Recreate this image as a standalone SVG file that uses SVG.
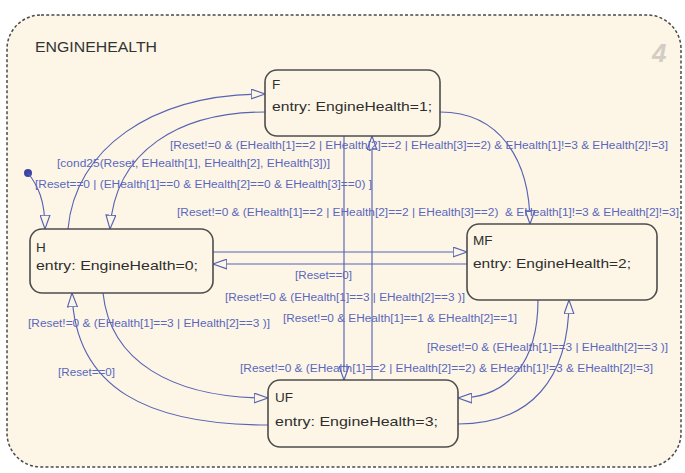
<svg xmlns="http://www.w3.org/2000/svg" width="685" height="473" viewBox="0 0 685 473">
  <style>
    .chart { fill: #fdf6e6; stroke: #4a4a4a; stroke-width: 1.5; stroke-dasharray: 3 2.2; }
    .state { fill: #fdf6e6; stroke: #4d4d4d; stroke-width: 1.6; }
    .title { font-family: "Liberation Sans", Arial, sans-serif; font-size: 15px; fill: #333; }
    .stxt { font-family: "Liberation Sans", Arial, sans-serif; font-size: 13.5px; fill: #2e2e2e; }
    .edge { fill: none; stroke: #5863b3; stroke-width: 1.15; marker-end: url(#arr); }
    .lbl { font-family: "Liberation Sans", Arial, sans-serif; font-size: 10px; fill: #5a67bd; }
  </style>
  <defs>
    <marker id="arr" viewBox="0 0 15 11" refX="14.4" refY="5.5" markerWidth="15" markerHeight="11" orient="auto" markerUnits="userSpaceOnUse">
      <path d="M0.6,0.6 L14.4,5.5 L0.6,10.4 Z" fill="#fdf6e6" stroke="#5863b3" stroke-width="1.15"/>
    </marker>
  </defs>

  <rect width="685" height="473" fill="#ffffff"/>

  <!-- chart boundary -->
  <g id="ENGINEHEALTH">
    <rect class="chart" x="7" y="15" width="674" height="452" rx="34" ry="34"/>
    <text class="title" x="35" y="52" textLength="122" lengthAdjust="spacingAndGlyphs">ENGINEHEALTH</text>
    <text x="652" y="62" font-family="Liberation Sans, Arial, sans-serif" font-size="26" font-weight="bold" font-style="italic" fill="#d2cdc5">4</text>
  </g>

  <!-- transitions -->
  <g id="connectors">
    <!-- default transition -->
    <circle cx="28" cy="173" r="4" fill="#3c46a2"/>
    <path class="edge" d="M28,173 C38,186 45,200 45,229"/>
    <!-- H -> F -->
    <path class="edge" d="M68,229 C75,150 150,94 265,94"/>
    <!-- F -> H -->
    <path class="edge" d="M265,112 C180,112 115,150 110,229"/>
    <!-- F -> MF -->
    <path class="edge" d="M440,112 C500,112 530,160 530,224"/>
    <!-- H <-> MF -->
    <path class="edge" d="M213,252 L467,252"/>
    <path class="edge" d="M467,264 L213,264"/>
    <!-- F <-> UF -->
    <path class="edge" d="M344,136 L344,380"/>
    <path class="edge" d="M372,380 L372,136"/>
    <!-- H <-> UF -->
    <path class="edge" d="M103,293 C110,360 170,398 268,398"/>
    <path class="edge" d="M268,425 C150,425 75,390 72,293"/>
    <!-- MF <-> UF -->
    <path class="edge" d="M538,300 C538,360 510,398 458,398"/>
    <path class="edge" d="M458,424 C530,424 569,380 569,300"/>

    <!-- guards -->
    <text class="lbl" x="170" y="149" textLength="498" lengthAdjust="spacingAndGlyphs">[Reset!=0 &amp; (EHealth[1]==2 | EHealth[2]==2 | EHealth[3]==2) &amp; EHealth[1]!=3 &amp; EHealth[2]!=3]</text>
    <text class="lbl" x="57" y="167" textLength="273" lengthAdjust="spacingAndGlyphs">[cond25(Reset, EHealth[1], EHealth[2], EHealth[3])]</text>
    <text class="lbl" x="35" y="188" textLength="337" lengthAdjust="spacingAndGlyphs">[Reset==0 | (EHealth[1]==0 &amp; EHealth[2]==0 &amp; EHealth[3]==0) ]</text>
    <text class="lbl" x="177" y="216" textLength="502" lengthAdjust="spacingAndGlyphs" xml:space="preserve">[Reset!=0 &amp; (EHealth[1]==2 | EHealth[2]==2 | EHealth[3]==2)  &amp; EHealth[1]!=3 &amp; EHealth[2]!=3]</text>
    <text class="lbl" x="295" y="279" textLength="57" lengthAdjust="spacingAndGlyphs">[Reset==0]</text>
    <text class="lbl" x="225" y="301" textLength="240" lengthAdjust="spacingAndGlyphs">[Reset!=0 &amp; (EHealth[1]==3 | EHealth[2]==3 )]</text>
    <text class="lbl" x="283" y="322" textLength="234" lengthAdjust="spacingAndGlyphs">[Reset!=0 &amp; EHealth[1]==1 &amp; EHealth[2]==1]</text>
    <text class="lbl" x="28" y="327" textLength="242" lengthAdjust="spacingAndGlyphs">[Reset!=0 &amp; (EHealth[1]==3 | EHealth[2]==3 )]</text>
    <text class="lbl" x="427" y="351" textLength="241" lengthAdjust="spacingAndGlyphs">[Reset!=0 &amp; (EHealth[1]==3 | EHealth[2]==3 )]</text>
    <text class="lbl" x="240" y="372" textLength="413" lengthAdjust="spacingAndGlyphs">[Reset!=0 &amp; (EHealth[1]==2 | EHealth[2]==2) &amp; EHealth[1]!=3 &amp; EHealth[2]!=3]</text>
    <text class="lbl" x="58" y="376" textLength="57" lengthAdjust="spacingAndGlyphs">[Reset==0]</text>
  </g>

  <!-- states -->
  <g id="F">
    <rect class="state" x="265" y="70" width="175" height="66" rx="12" ry="12"/>
    <text class="stxt" x="272" y="89">F</text>
    <text class="stxt" x="272" y="111" textLength="160" lengthAdjust="spacingAndGlyphs">entry: EngineHealth=1;</text>
  </g>
  <g id="H">
    <rect class="state" x="30" y="229" width="183" height="64" rx="12" ry="12"/>
    <text class="stxt" x="36" y="252">H</text>
    <text class="stxt" x="36" y="270" textLength="162" lengthAdjust="spacingAndGlyphs">entry: EngineHealth=0;</text>
  </g>
  <g id="MF">
    <rect class="state" x="467" y="224" width="190" height="76" rx="12" ry="12"/>
    <text class="stxt" x="473" y="245">MF</text>
    <text class="stxt" x="473" y="268" textLength="158" lengthAdjust="spacingAndGlyphs">entry: EngineHealth=2;</text>
  </g>
  <g id="UF">
    <rect class="state" x="268" y="380" width="190" height="67" rx="12" ry="12"/>
    <text class="stxt" x="275" y="402">UF</text>
    <text class="stxt" x="275" y="426" textLength="163" lengthAdjust="spacingAndGlyphs">entry: EngineHealth=3;</text>
  </g>
</svg>
